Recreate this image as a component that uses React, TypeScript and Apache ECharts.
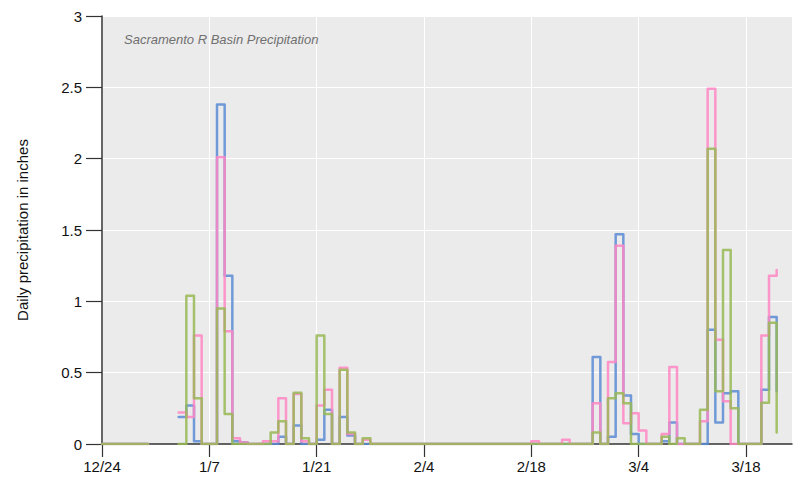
import React, { useEffect, useRef } from "react";
import * as echarts from "echarts";

const N = null;
// Day index 0 = 12/24; each value holds over [day, day+1]
const blueValues: (number | null)[] = [
  0, 0, 0, 0, 0, 0, N, N, N, N,
  0.19, 0.27, 0.02, 0, 0, 2.38, 1.18, 0.02, 0.01, 0,
  0, 0, 0, 0.05, 0, 0.13, 0, 0, 0.03, 0.24,
  0, 0.19, 0.06, 0, 0, 0, 0, 0, 0, 0,
  0, 0, 0, 0, 0, 0, 0, 0, 0, 0,
  0, 0, 0, 0, 0, 0, 0, 0, 0, 0,
  0, 0, 0, 0, 0.61, 0, 0.05, 1.47, 0.34, 0.07,
  0, 0, 0, 0.02, 0.15, 0, 0, 0, 0, 0.8,
  0.15, 0.355, 0.37, 0, 0, 0, 0.38, 0.89, 0.37,
];
const pinkValues: (number | null)[] = [
  0, 0, 0, 0, 0, 0, N, N, N, N,
  0.22, 0.19, 0.76, 0, 0, 2.01, 0.79, 0.04, 0.01, 0,
  0, 0.02, 0.02, 0.32, 0, 0.35, 0.02, 0, 0.27, 0.38,
  0, 0.535, 0.07, 0, 0.03, 0, 0, 0, 0, 0,
  0, 0, 0, 0, 0, 0, 0, 0, 0, 0,
  0, 0, 0, 0, 0, 0, 0.02, 0, 0, 0,
  0.03, 0, 0, 0, 0.285, 0, 0.575, 1.39, 0.145, 0.215,
  0.095, 0, 0, 0.07, 0.54, 0, 0, 0, 0.16, 2.49,
  0.73, 0.3, 0, 0, 0, 0, 0.76, 1.18, 1.22,
];
const greenValues: (number | null)[] = [
  0, 0, 0, 0, 0, 0, N, N, N, N,
  0, 1.04, 0.32, 0, 0, 0.95, 0.21, 0, 0, 0,
  0, 0, 0.08, 0.16, 0, 0.36, 0.04, 0, 0.76, 0.21,
  0, 0.52, 0.08, 0, 0.04, 0, 0, 0, 0, 0,
  0, 0, 0, 0, 0, 0, 0, 0, 0, 0,
  0, 0, 0, 0, 0, 0, 0, 0, 0, 0,
  0, 0, 0, 0, 0.08, 0, 0.32, 0.355, 0.285, 0,
  0, 0, 0, 0.05, 0, 0.04, 0, 0, 0.24, 2.07,
  0.37, 1.36, 0.25, 0, 0, 0, 0.29, 0.85, 0.08,
];
const xTickDays = [0, 14, 28, 42, 56, 70, 84];
const yTicks = [0, 0.5, 1, 1.5, 2, 2.5, 3];
const titleText = "Sacramento R Basin Precipitation";
const yName = "Daily precipitation in inches";

const dayLabel = (d: number) => {
  const dt = new Date(2018, 11, 24 + d);
  return `${dt.getMonth() + 1}/${dt.getDate()}`;
};

const toData = (vals: (number | null)[]) =>
  vals.map((v, i) => [i, v === null ? "-" : v]);

export default function App() {
  const ref = useRef<HTMLDivElement>(null);
  useEffect(() => {
    if (!ref.current) return;
    const chart = echarts.init(ref.current, null, { renderer: "svg" });
    const font = "Liberation Sans, Arial, sans-serif";
    const mk = (name: string, color: string, vals: (number | null)[]) => ({
      name,
      type: "line",
      step: "end",
      showSymbol: false,
      symbol: "none",
      connectNulls: false,
      data: toData(vals),
      lineStyle: { color, width: 2.5, cap: "round", join: "round", opacity: 0.85 },
      itemStyle: { color },
      emphasis: { disabled: true },
    });
    chart.setOption({
      animation: false,
      title: {
        text: titleText,
        left: 124,
        top: 33,
        padding: 0,
        textStyle: {
          fontFamily: font,
          fontStyle: "italic",
          fontWeight: "normal",
          fontSize: 13,
          color: "#707070",
        },
      },
      grid: {
        left: 102,
        right: 1,
        top: 16,
        bottom: 38,
        show: true,
        backgroundColor: "#EBEBEB",
        borderWidth: 0,
      },
      xAxis: {
        type: "value",
        min: 0,
        max: 90,
        interval: 14,
        axisLine: { show: true, lineStyle: { color: "#333", width: 1.5 } },
        axisTick: { show: true, length: 13, customValues: xTickDays, lineStyle: { color: "#333", width: 1.2 } },
        axisLabel: {
          customValues: xTickDays,
          formatter: (v: number) => dayLabel(v),
          margin: 15,
          fontFamily: font,
          fontSize: 15,
          color: "#111",
        },
        splitLine: { show: true, lineStyle: { color: "#FFFFFF", width: 1 } },
      },
      yAxis: {
        type: "value",
        min: 0,
        max: 3,
        interval: 0.5,
        name: yName,
        nameLocation: "middle",
        nameGap: 72,
        nameTextStyle: { fontFamily: font, fontSize: 15, color: "#111" },
        axisLine: { show: true, lineStyle: { color: "#333", width: 1.5 } },
        axisTick: { show: true, length: 16, lineStyle: { color: "#333", width: 1.2 } },
        axisLabel: {
          formatter: (v: number) => (yTicks.includes(v) ? String(v) : ""),
          margin: 20,
          fontFamily: font,
          fontSize: 15,
          color: "#111",
        },
        splitLine: { show: true, lineStyle: { color: "#FFFFFF", width: 1 } },
      },
      series: [
        mk("Blue", "#5A8BD3", blueValues),
        mk("Pink", "#FF86C4", pinkValues),
        mk("Green", "#98B955", greenValues),
      ],
    });
    return () => chart.dispose();
  }, []);
  return (
    <div
      ref={ref}
      style={{ position: "absolute", left: 0, top: 0, width: 793, height: 482 }}
    />
  );
}
